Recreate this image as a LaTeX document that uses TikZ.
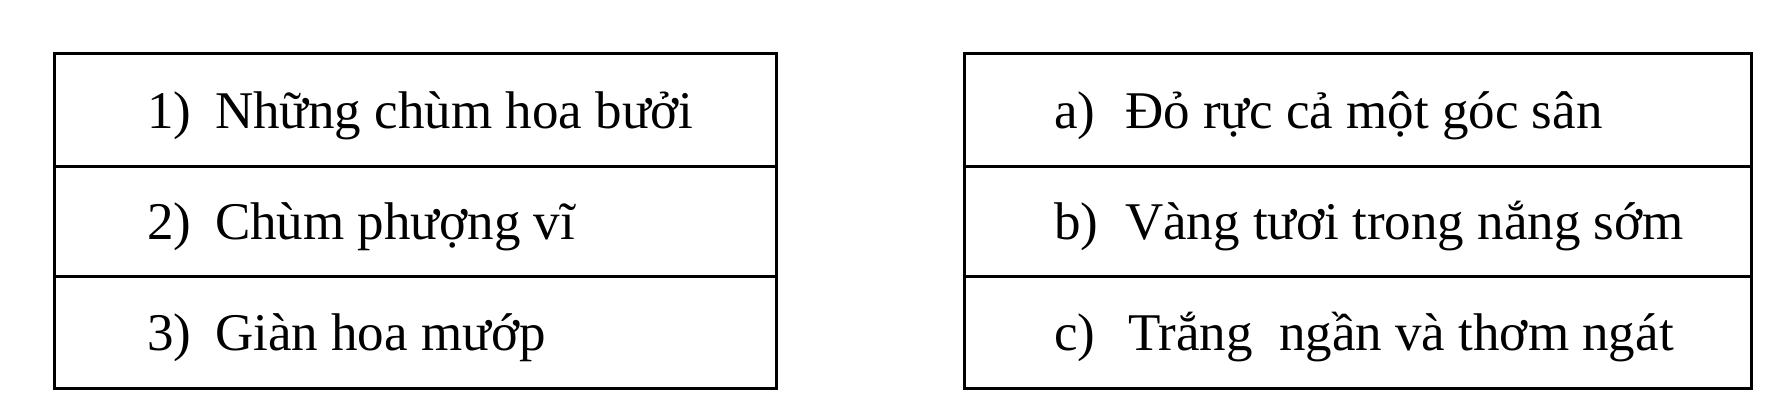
\documentclass[tikz,border=0pt]{standalone}
\usepackage{fontspec}
\setmainfont{Liberation Serif}
\begin{document}
\begin{tikzpicture}[x=1pt,y=-1pt,
  cell/.style={draw=black, line width=3pt, rectangle, inner sep=0pt, outer sep=0pt},
  txt/.style={anchor=base west, inner sep=0pt, outer sep=0pt, font=\fontsize{53}{60}\selectfont}]
\useasboundingbox[fill=white] (0,0) rectangle (1773,400);
% left column
\node[cell, minimum width=722pt, minimum height=113pt] (L1) at (415,109.5) {};
\node[cell, minimum width=722pt, minimum height=110pt] (L2) at (415,221) {};
\node[cell, minimum width=722pt, minimum height=112pt] (L3) at (415,332) {};
% right column
\node[cell, minimum width=787pt, minimum height=113pt] (R1) at (1357.5,109.5) {};
\node[cell, minimum width=787pt, minimum height=110pt] (R2) at (1357.5,221) {};
\node[cell, minimum width=787pt, minimum height=112pt] (R3) at (1357.5,332) {};
% left texts
\node[txt] (n1) at (147,128) {1)};
\node[txt] (t1) at (215,128) {Những chùm hoa bưởi};
\node[txt] (n2) at (147,239) {2)};
\node[txt] (t2) at (215,239) {Chùm phượng vĩ};
\node[txt] (n3) at (147,350) {3)};
\node[txt] (t3) at (215,350) {Giàn hoa mướp};
% right texts
\node[txt] (na) at (1054,128) {a)};
\node[txt] (ta) at (1125,128) {Đỏ rực cả một góc sân};
\node[txt] (nb) at (1054,239) {b)};
\node[txt] (tb) at (1125,239) {Vàng tươi trong nắng sớm};
\node[txt] (nc) at (1054,350) {c)};
\node[txt] (tc) at (1128,350) {Trắng\ \ ngần và thơm ngát};
\end{tikzpicture}
\end{document}
